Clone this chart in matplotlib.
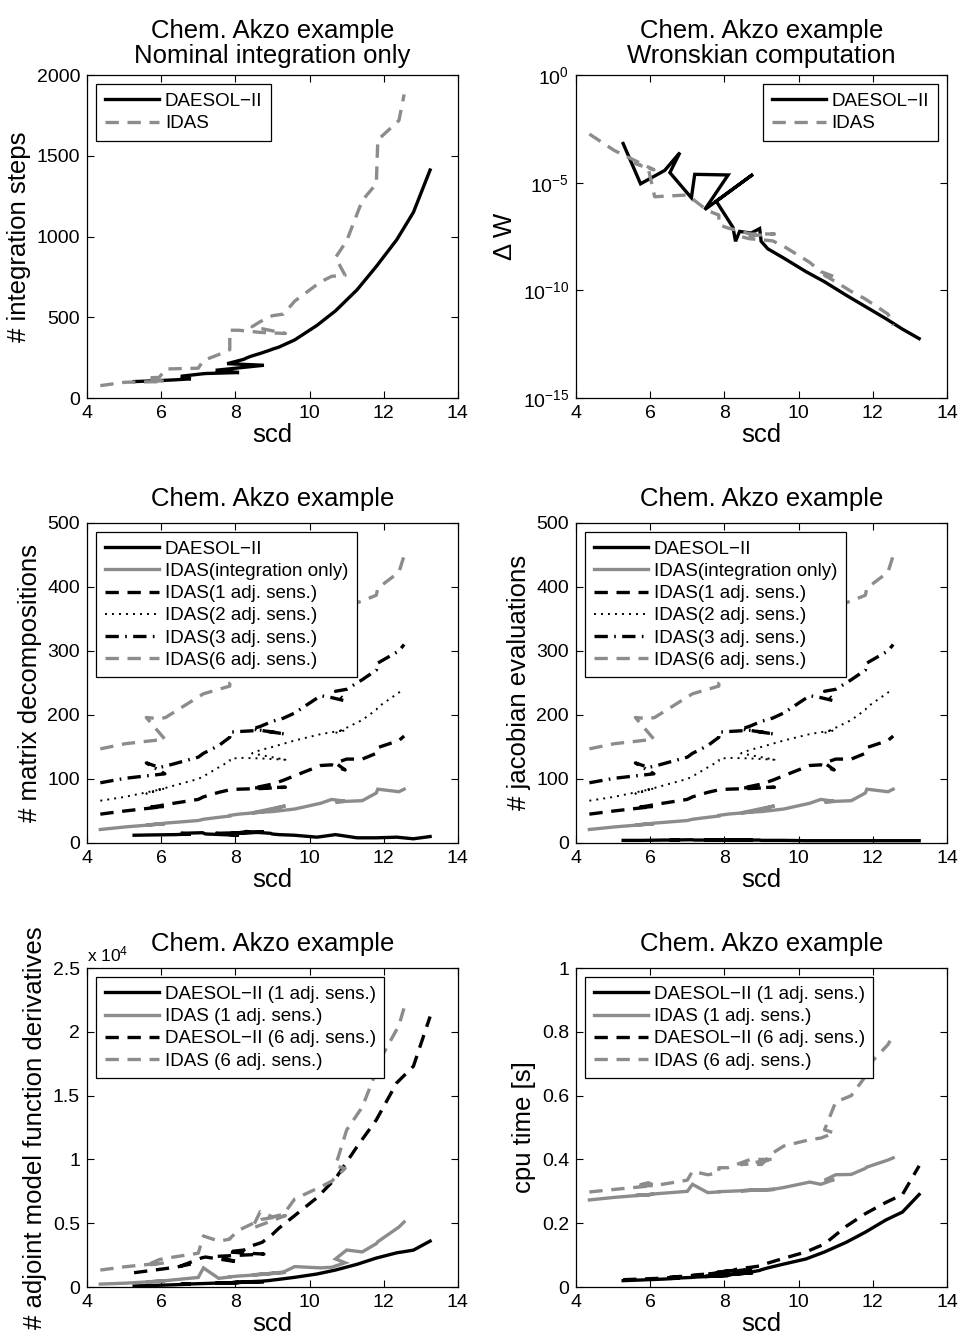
import numpy as np
import matplotlib
matplotlib.use('Agg')
import matplotlib.pyplot as plt
from matplotlib.ticker import FuncFormatter, NullLocator

plt.rcParams['font.family'] = ['Liberation Sans', 'DejaVu Sans']
plt.rcParams['mathtext.fontset'] = 'custom'
plt.rcParams['mathtext.rm'] = 'Liberation Sans'
plt.rcParams['mathtext.default'] = 'regular'

# scd reached by each run, in the order of the tolerance sweep
scd_daesol = [5.27, 5.74, 6.39, 6.8, 6.53, 7.11, 7.2, 8.1, 7.47, 8.77, 7.78, 8.23, 8.3,
              8.41, 8.72, 8.95, 8.99, 9.17, 9.6, 10.2, 10.7, 11.28, 11.8, 12.35, 12.8, 13.25]
scd_idas = [4.36, 5.03, 6.1, 5.6, 5.95, 6.12, 7.0, 7.14, 7.55, 7.85, 7.85, 8.09, 8.7, 9.35,
            8.45, 8.67, 9.0, 9.3, 9.6, 10.3, 10.6, 10.96, 10.7, 11.0, 11.42, 11.8, 11.84,
            12.41, 12.55]

# integration steps
steps_daesol = [102, 106, 113, 119, 135, 150, 152, 158, 172, 203, 213, 240, 248, 258, 280,
                298, 302, 315, 360, 450, 540, 670, 815, 980, 1150, 1412]
steps_idas = [77, 98, 102, 125, 128, 180, 185, 233, 269, 300, 420, 420, 406, 400, 442, 473,
              510, 520, 600, 720, 754, 760, 870, 973, 1223, 1327, 1598, 1719, 1880]

# Wronskian error, log10
dW_exp_daesol = [-3.18, -5.05, -4.43, -3.6, -4.53, -5.7, -4.61, -4.64, -6.25, -4.61, -5.86,
                 -7.07, -7.72, -7.26, -7.34, -7.13, -7.72, -8.07, -8.5, -9.13, -9.6, -10.22,
                 -10.75, -11.31, -11.8, -12.24]
dW_exp_idas = [-2.74, -3.5, -4.4, -4.1, -4.35, -5.65, -5.57, -5.75, -6.3, -6.5, -6.95, -7.1,
               -7.38, -7.38, -7.5, -7.6, -7.65, -7.7, -7.95, -8.7, -9.13, -9.36, -9.3, -9.6,
               -10.05, -10.4, -10.45, -11.1, -11.62]

# matrix decompositions
dec_daesol = [12, 12.5, 13, 14, 15, 16, 14, 12, 15, 17, 14, 17, 18, 17, 16, 15, 14, 13, 12,
              9, 13, 8, 8, 9, 6.5, 10]
jac_daesol = [4, 4, 4.5, 4.5, 4.5, 5, 4.5, 4.5, 5, 5, 5, 4.5, 4.5, 4.5, 4.5, 4.5, 4, 4, 4,
              3.5, 3.5, 3.5, 3.5, 3.5, 3.5, 3.5]
# for IDAS the jacobian evaluations equal the decompositions
dec_idas_int = [21, 25, 30, 28, 30, 31, 35, 37, 40, 42, 43, 45, 48, 58, 47, 48, 49, 51, 53,
                62, 68, 65, 64, 65, 66, 78, 84, 80, 84]
dec_idas_1 = [45, 50, 57, 55, 58, 60, 68, 72, 79, 83, 83, 84, 85, 87, 86, 88, 92, 98, 105,
              121, 122, 114, 125, 131, 131, 140, 149, 160, 167]
dec_idas_2 = [66, 72, 85, 77, 84, 86, 100, 104, 118, 128, 131, 133, 132, 130, 140, 145, 150,
              155, 160, 170, 173, 176, 172, 180, 192, 208, 212, 235, 240]
dec_idas_3 = [94, 101, 108, 125, 118, 120, 134, 140, 152, 165, 173, 174, 176, 170, 178, 182,
              190, 195, 203, 230, 227, 222, 237, 240, 255, 270, 281, 300, 310]
dec_idas_6 = [147, 155, 162, 196, 194, 196, 228, 233, 240, 245, 250, 262, 272, 285, 275, 280,
              290, 300, 310, 340, 355, 365, 360, 370, 378, 387, 398, 423, 449]

# adjoint model function derivatives
adj_daesol_1 = [80, 120, 180, 230, 220, 270, 280, 360, 300, 420, 330, 380, 400, 420, 460,
                520, 540, 600, 760, 1020, 1330, 1780, 2270, 2680, 2890, 3600]
adj_daesol_6 = [1120, 1300, 1550, 1800, 1650, 2300, 2350, 1950, 2400, 2580, 2750, 2900, 3000,
                3200, 3500, 4000, 4100, 4600, 5600, 7000, 8500, 11000, 13100, 16000, 17300,
                21200]
adj_idas_1 = [230, 300, 480, 400, 450, 500, 750, 1500, 680, 780, 800, 860, 980, 1150, 950,
              1000, 1080, 1180, 1600, 1500, 1550, 1900, 2200, 2900, 2750, 3400, 3550, 4700, 5100]
adj_idas_6 = [1330, 1590, 1900, 1700, 2150, 2250, 2650, 4000, 3600, 3750, 3800, 4450, 5300,
              5600, 4600, 5900, 5500, 5700, 6900, 7850, 8300, 9300, 9500, 12300, 14100, 16900,
              17500, 20500, 21900]

# cpu time [s]
cpu_daesol_1 = [0.020, 0.022, 0.025, 0.028, 0.027, 0.030, 0.031, 0.036, 0.033, 0.045, 0.035,
                0.040, 0.042, 0.044, 0.047, 0.052, 0.054, 0.060, 0.072, 0.088, 0.11, 0.14,
                0.172, 0.21, 0.235, 0.29]
cpu_daesol_6 = [0.023, 0.025, 0.028, 0.033, 0.030, 0.036, 0.038, 0.045, 0.040, 0.055, 0.047,
                0.052, 0.055, 0.058, 0.062, 0.066, 0.068, 0.075, 0.09, 0.11, 0.135, 0.19,
                0.23, 0.265, 0.29, 0.38]
cpu_idas_1 = [0.273, 0.281, 0.291, 0.287, 0.289, 0.292, 0.300, 0.322, 0.296, 0.298, 0.299,
              0.300, 0.303, 0.306, 0.302, 0.303, 0.305, 0.306, 0.312, 0.329, 0.322, 0.337,
              0.335, 0.352, 0.353, 0.372, 0.376, 0.398, 0.405]
cpu_idas_6 = [0.298, 0.306, 0.318, 0.317, 0.327, 0.318, 0.335, 0.363, 0.352, 0.358, 0.374,
              0.374, 0.40, 0.40, 0.384, 0.386, 0.384, 0.42, 0.442, 0.462, 0.467, 0.483,
              0.493, 0.58, 0.6, 0.66, 0.69, 0.76, 0.79]

GRAY = '0.55'
LW = 2.4
DASH = (4.0, 2.6)
DASHDOT = (4.0, 1.9, 0.5, 1.9)
DOT = (1.0, 2.6)
TITLE = 'Chem. Akzo example'
FS_TICK = 14
FS_LEG = 13.5
FS_LAB = 18.5

fig = plt.figure(figsize=(9.61, 13.38), dpi=100)
L, R = 0.0905, 0.5994
W = 0.386
rows = [(0.7025, 0.2414), (0.370, 0.2392), (0.0381, 0.2384)]


def make_ax(col, row):
    b, h = rows[row]
    ax = fig.add_axes([col, b, W, h])
    ax.tick_params(direction='in', length=5, width=0.8, top=True, right=True,
                   labelsize=FS_TICK, pad=5)
    for s in ax.spines.values():
        s.set_linewidth(0.9)
    ax.set_xlim(4, 14)
    ax.set_xticks([4, 6, 8, 10, 12, 14])
    ax.set_xlabel('scd', fontsize=FS_LAB, labelpad=1)
    return ax


def line(ax, x, y, color, dashes=None, lw=LW, label=None):
    ln, = ax.plot(x, y, color=color, lw=lw, label=label, solid_joinstyle='miter',
                  dash_capstyle='butt')
    if dashes is not None:
        ln.set_dashes(dashes)
    return ln


def legend(ax, loc):
    lg = ax.legend(loc=loc, fontsize=FS_LEG, handlelength=2.9, handletextpad=0.3,
                   labelspacing=0.27, borderpad=0.45, borderaxespad=0.5,
                   fancybox=False, framealpha=1, edgecolor='k')
    lg.get_frame().set_linewidth(0.9)


# panel 1: integration steps
ax = make_ax(L, 0)
line(ax, scd_daesol, steps_daesol, 'k', label='DAESOL−II')
line(ax, scd_idas, steps_idas, GRAY, DASH, label='IDAS')
ax.set_ylim(0, 2000)
ax.set_yticks([0, 500, 1000, 1500, 2000])
ax.set_ylabel('# integration steps', fontsize=FS_LAB)
ax.set_title(TITLE + '\nNominal integration only', fontsize=FS_LAB, pad=9, linespacing=1.05)
legend(ax, 'upper left')

# panel 2: Wronskian
ax = make_ax(R, 0)
line(ax, scd_daesol, 10.0 ** np.array(dW_exp_daesol), 'k', label='DAESOL−II')
line(ax, scd_idas, 10.0 ** np.array(dW_exp_idas), GRAY, DASH, label='IDAS')
ax.set_yscale('log')
ax.set_ylim(1e-15, 1e0)
ax.set_yticks([1e-15, 1e-10, 1e-5, 1e0])
ax.yaxis.set_minor_locator(NullLocator())
ax.set_ylabel('Δ W', fontsize=FS_LAB)
ax.set_title(TITLE + '\nWronskian computation', fontsize=FS_LAB, pad=9, linespacing=1.05)
legend(ax, 'upper right')


def idas_decomp(ax):
    line(ax, scd_idas, dec_idas_int, GRAY, label='IDAS(integration only)')
    line(ax, scd_idas, dec_idas_1, 'k', DASH, label='IDAS(1 adj. sens.)')
    line(ax, scd_idas, dec_idas_2, 'k', DOT, lw=1.4, label='IDAS(2 adj. sens.)')
    line(ax, scd_idas, dec_idas_3, 'k', DASHDOT, label='IDAS(3 adj. sens.)')
    line(ax, scd_idas, dec_idas_6, GRAY, DASH, label='IDAS(6 adj. sens.)')
    ax.set_ylim(0, 500)
    ax.set_yticks([0, 100, 200, 300, 400, 500])
    ax.set_title(TITLE, fontsize=FS_LAB, pad=12)


# panel 3: matrix decompositions
ax = make_ax(L, 1)
line(ax, scd_daesol, dec_daesol, 'k', label='DAESOL−II')
idas_decomp(ax)
ax.set_ylabel('# matrix decompositions', fontsize=FS_LAB)
legend(ax, 'upper left')

# panel 4: jacobian evaluations
ax = make_ax(R, 1)
line(ax, scd_daesol, jac_daesol, 'k', label='DAESOL−II')
idas_decomp(ax)
ax.set_ylabel('# jacobian evaluations', fontsize=FS_LAB)
legend(ax, 'upper left')

# panel 5: adjoint derivatives
ax = make_ax(L, 2)
line(ax, scd_daesol, adj_daesol_1, 'k', label='DAESOL−II (1 adj. sens.)')
line(ax, scd_idas, adj_idas_1, GRAY, label='IDAS (1 adj. sens.)')
line(ax, scd_daesol, adj_daesol_6, 'k', DASH, label='DAESOL−II (6 adj. sens.)')
line(ax, scd_idas, adj_idas_6, GRAY, DASH, label='IDAS (6 adj. sens.)')
ax.set_ylim(0, 25000)
ax.set_yticks([0, 5000, 10000, 15000, 20000, 25000])
ax.yaxis.set_major_formatter(FuncFormatter(lambda v, p: ('%g' % (v / 1e4))))
ax.text(0.0, 1.012, 'x 10$^{4}$', transform=ax.transAxes, fontsize=12.5,
        ha='left', va='bottom')
ax.set_ylabel('# adjoint model function derivatives', fontsize=FS_LAB)
ax.set_title(TITLE, fontsize=FS_LAB, pad=12)
legend(ax, 'upper left')

# panel 6: cpu time
ax = make_ax(R, 2)
line(ax, scd_daesol, cpu_daesol_1, 'k', label='DAESOL−II (1 adj. sens.)')
line(ax, scd_idas, cpu_idas_1, GRAY, label='IDAS (1 adj. sens.)')
line(ax, scd_daesol, cpu_daesol_6, 'k', DASH, label='DAESOL−II (6 adj. sens.)')
line(ax, scd_idas, cpu_idas_6, GRAY, DASH, label='IDAS (6 adj. sens.)')
ax.set_ylim(0, 1)
ax.set_yticks([0, 0.2, 0.4, 0.6, 0.8, 1])
ax.yaxis.set_major_formatter(FuncFormatter(lambda v, p: ('%g' % v)))
ax.set_ylabel('cpu time [s]', fontsize=FS_LAB)
ax.set_title(TITLE, fontsize=FS_LAB, pad=12)
legend(ax, 'upper left')

fig.savefig('out.png', dpi=100)
